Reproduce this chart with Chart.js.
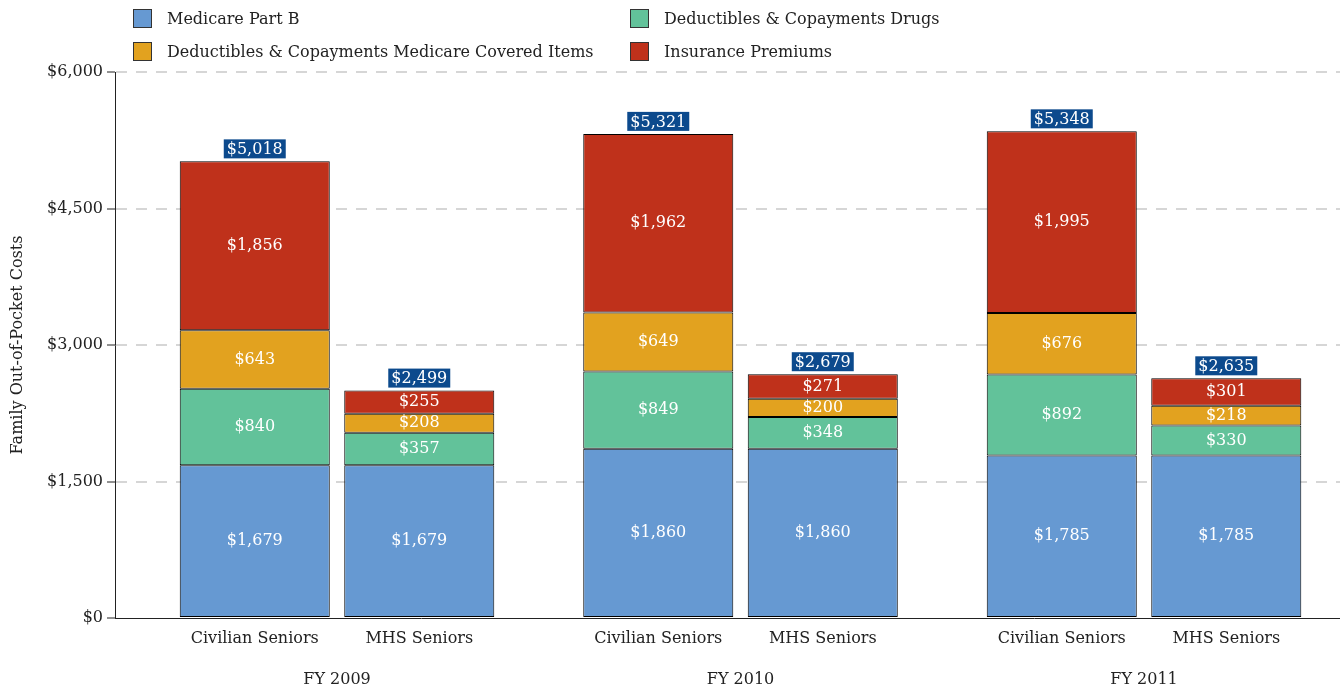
<!DOCTYPE html>
<html>
<head>
<meta charset="utf-8">
<script src="https://cdn.jsdelivr.net/npm/chart.js@4/dist/chart.umd.min.js"></script>
<style>
  html, body { margin: 0; padding: 0; background: #fff; }
  #wrap { position: relative; width: 1340px; height: 691px; }
  #legend {
    position: absolute; left: 133px; top: 8px;
    display: grid; grid-template-columns: 497px 400px; grid-auto-rows: 33px;
    font: 16px "DejaVu Serif", serif; color: #222;
  }
  #legend .item { display: flex; align-items: center; height: 20px; }
  #legend .box { width: 17px; height: 17px; border: 1px solid #333; margin-right: 15px; }
</style>
</head>
<body>
<div id="wrap">
  <canvas id="chart" width="1340" height="691"></canvas>
  <div id="legend"></div>
</div>
<script>
// data
const years = ['FY 2009', 'FY 2010', 'FY 2011'];
const groups = ['Civilian Seniors', 'MHS Seniors'];
const series = ['Medicare Part B', 'Deductibles & Copayments Drugs',
  'Deductibles & Copayments Medicare Covered Items', 'Insurance Premiums'];
const colors = ['#6699d2', '#62c29a', '#e2a21f', '#bf311b'];

const civPartB = [1679, 1860, 1785];
const civDrugs = [840, 849, 892];
const civCovered = [643, 649, 676];
const civPremiums = [1856, 1962, 1995];
const civTotals = [5018, 5321, 5348];

const mhsPartB = [1679, 1860, 1785];
const mhsDrugs = [357, 348, 330];
const mhsCovered = [208, 200, 218];
const mhsPremiums = [255, 271, 301];
const mhsTotals = [2499, 2679, 2635];

const yTicks = [0, 1500, 3000, 4500, 6000];

const FONT = '"DejaVu Serif", serif';

function money(v) {
  return '$' + v.toLocaleString('en-US');
}

// legenda in 2 kolommen
const legendEl = document.getElementById('legend');
series.forEach((name, i) => {
  const item = document.createElement('div');
  item.className = 'item';
  item.innerHTML = '<span class="box" style="background:' + colors[i] + '"></span><span></span>';
  item.lastChild.textContent = name;
  legendEl.appendChild(item);
});

function makeDataset(values, seriesIndex, stack) {
  return {
    label: series[seriesIndex],
    stack: stack,
    data: values.map((v, i) => ({ x: i, y: v })),
    backgroundColor: colors[seriesIndex],
    borderColor: '#000',
    borderWidth: 1,
    borderSkipped: false,
    categoryPercentage: 0.8154,
    barPercentage: 0.912,
  };
}

const datasets = [
  makeDataset(civPartB, 0, 'civ'),
  makeDataset(civDrugs, 1, 'civ'),
  makeDataset(civCovered, 2, 'civ'),
  makeDataset(civPremiums, 3, 'civ'),
  makeDataset(mhsPartB, 0, 'mhs'),
  makeDataset(mhsDrugs, 1, 'mhs'),
  makeDataset(mhsCovered, 2, 'mhs'),
  makeDataset(mhsPremiums, 3, 'mhs'),
];
const totals = { civ: civTotals, mhs: mhsTotals };

// waarden in de balken, totalen erboven en de labels onder de as
const labelPlugin = {
  id: 'barLabels',
  afterDatasetsDraw(chart) {
    const ctx = chart.ctx;
    const area = chart.chartArea;
    ctx.save();
    ctx.font = '16px ' + FONT;
    ctx.textAlign = 'center';
    ctx.textBaseline = 'middle';

    chart.data.datasets.forEach((ds, i) => {
      const meta = chart.getDatasetMeta(i);
      meta.data.forEach((el, j) => {
        ctx.fillStyle = '#ffffff';
        ctx.fillText(money(ds.data[j].y), el.x, (el.y + el.base) / 2);

        // bovenste segment: totaal in blauw vakje
        if (i % 4 === 3) {
          const txt = money(totals[ds.stack][j]);
          const w = ctx.measureText(txt).width + 6;
          const h = 19;
          ctx.fillStyle = '#0c4a8d';
          ctx.fillRect(el.x - w / 2, el.y - 3 - h, w, h);
          ctx.fillStyle = '#ffffff';
          ctx.fillText(txt, el.x, el.y - 3 - h / 2 + 1);
        }

        // groepsnaam onder de balk
        if (i % 4 === 0) {
          ctx.fillStyle = '#222';
          ctx.fillText(groups[i / 4], el.x, area.bottom + 21);
        }
      });
    });

    const xScale = chart.scales.x;
    ctx.fillStyle = '#222';
    years.forEach((y, j) => {
      ctx.fillText(y, xScale.getPixelForValue(j), area.bottom + 62);
    });
    ctx.restore();
  }
};

new Chart(document.getElementById('chart'), {
  type: 'bar',
  data: { datasets: datasets },
  plugins: [labelPlugin],
  options: {
    responsive: false,
    animation: false,
    layout: { padding: { top: 72, right: 0, bottom: 65, left: 0 } },
    plugins: {
      legend: { display: false },
      tooltip: { enabled: false },
    },
    scales: {
      x: {
        type: 'linear',
        stacked: true,
        offset: false,
        min: -0.5502,
        max: 2.4857,
        // ticks alleen op de jaren, anders rekent chart.js de balkbreedte verkeerd
        afterBuildTicks(scale) {
          scale.ticks = years.map((y, i) => ({ value: i }));
        },
        ticks: { display: false },
        grid: { display: false },
        border: { display: true, color: '#222', width: 1 },
      },
      y: {
        stacked: true,
        min: 0,
        max: 6000,
        afterBuildTicks(scale) {
          scale.ticks = yTicks.map(v => ({ value: v }));
        },
        afterFit(scale) {
          scale.width = 115;
        },
        ticks: {
          color: '#222',
          padding: 4,
          font: { family: FONT, size: 16 },
          callback: v => money(v),
        },
        grid: {
          color: c => (c.tick && c.tick.value === 0) ? 'rgba(0,0,0,0)' : '#d6d6d6',
          lineWidth: 2,
          tickColor: '#222',
          tickWidth: 1,
          tickLength: 8,
          tickBorderDash: [],
        },
        border: { display: true, color: '#222', width: 1, dash: [11, 9] },
        title: {
          display: true,
          text: 'Family Out-of-Pocket Costs',
          color: '#222',
          font: { family: FONT, size: 16 },
          padding: { top: 8, bottom: 4 },
        },
      },
    },
  },
});
</script>
</body>
</html>
